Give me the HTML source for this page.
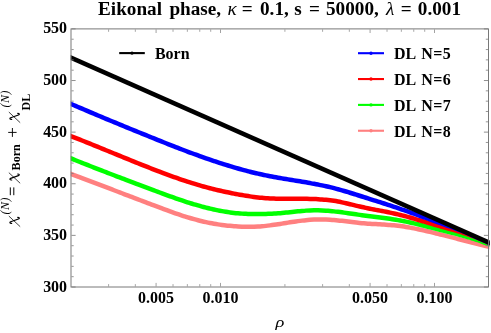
<!DOCTYPE html>
<html><head><meta charset="utf-8"><title>Eikonal phase</title>
<style>
html,body{margin:0;padding:0;background:#fff;}
body{width:491px;height:333px;position:relative;overflow:hidden;font-family:"Liberation Serif",serif;}
</style></head><body>
<svg width="491" height="333" viewBox="0 0 491 333" style="position:absolute;left:0;top:0;will-change:transform">
<defs><clipPath id="cp"><rect x="70.70" y="28.90" width="419.00" height="258.10"/></clipPath></defs>
<defs><clipPath id="cb"><path d="M70.00,56.01 L489.50,241.44 L489.50,287.00 L70.00,287.00 Z"/></clipPath></defs>
<g clip-path="url(#cp)" fill="none" stroke-width="4.50" stroke-linejoin="round">
<g clip-path="url(#cb)">
<path d="M66.00,172.08 C66.67,172.33 68.67,173.08 70.00,173.59 C71.33,174.09 72.67,174.59 74.00,175.09 C75.33,175.59 76.67,176.09 78.00,176.59 C79.33,177.10 80.67,177.60 82.00,178.10 C83.33,178.60 84.67,179.11 86.00,179.61 C87.33,180.11 88.67,180.62 90.00,181.12 C91.33,181.63 92.67,182.13 94.00,182.64 C95.33,183.14 96.67,183.65 98.00,184.15 C99.33,184.66 100.67,185.16 102.00,185.67 C103.33,186.18 104.67,186.68 106.00,187.19 C107.33,187.70 108.67,188.20 110.00,188.71 C111.33,189.22 112.67,189.72 114.00,190.23 C115.33,190.74 116.67,191.24 118.00,191.75 C119.33,192.26 120.67,192.77 122.00,193.27 C123.33,193.78 124.67,194.29 126.00,194.80 C127.33,195.30 128.67,195.81 130.00,196.32 C131.33,196.83 132.67,197.34 134.00,197.84 C135.33,198.35 136.67,198.86 138.00,199.37 C139.33,199.87 140.67,200.38 142.00,200.89 C143.33,201.40 144.67,201.90 146.00,202.41 C147.33,202.92 148.67,203.43 150.00,203.93 C151.33,204.44 152.67,204.95 154.00,205.45 C155.33,205.96 156.67,206.46 158.00,206.97 C159.33,207.47 160.67,207.97 162.00,208.47 C163.33,208.96 164.67,209.46 166.00,209.94 C167.33,210.43 168.67,210.92 170.00,211.39 C171.33,211.87 172.67,212.35 174.00,212.81 C175.33,213.28 176.67,213.74 178.00,214.19 C179.33,214.64 180.67,215.09 182.00,215.52 C183.33,215.96 184.67,216.38 186.00,216.80 C187.33,217.21 188.67,217.62 190.00,218.02 C191.33,218.41 192.67,218.79 194.00,219.17 C195.33,219.54 196.67,219.90 198.00,220.24 C199.33,220.59 200.67,220.92 202.00,221.24 C203.33,221.56 204.67,221.86 206.00,222.15 C207.33,222.44 208.67,222.72 210.00,222.98 C211.33,223.24 212.67,223.48 214.00,223.71 C215.33,223.94 216.67,224.16 218.00,224.36 C219.33,224.56 220.67,224.75 222.00,224.93 C223.33,225.10 224.67,225.27 226.00,225.42 C227.33,225.57 228.67,225.70 230.00,225.83 C231.33,225.95 232.67,226.07 234.00,226.17 C235.33,226.27 236.67,226.36 238.00,226.44 C239.33,226.51 240.67,226.58 242.00,226.63 C243.33,226.68 244.67,226.72 246.00,226.74 C247.33,226.76 248.67,226.77 250.00,226.77 C251.33,226.76 252.67,226.74 254.00,226.70 C255.33,226.66 256.67,226.60 258.00,226.53 C259.33,226.45 260.67,226.36 262.00,226.25 C263.33,226.14 264.67,226.01 266.00,225.87 C267.33,225.73 268.67,225.56 270.00,225.39 C271.33,225.22 272.67,225.04 274.00,224.84 C275.33,224.65 276.67,224.45 278.00,224.24 C279.33,224.04 280.67,223.82 282.00,223.61 C283.33,223.39 284.67,223.18 286.00,222.96 C287.33,222.75 288.67,222.53 290.00,222.32 C291.33,222.11 292.67,221.90 294.00,221.70 C295.33,221.51 296.67,221.31 298.00,221.13 C299.33,220.95 300.67,220.77 302.00,220.61 C303.33,220.46 304.67,220.31 306.00,220.18 C307.33,220.04 308.67,219.93 310.00,219.83 C311.33,219.73 312.67,219.65 314.00,219.59 C315.33,219.53 316.67,219.49 318.00,219.47 C319.33,219.45 320.67,219.45 322.00,219.46 C323.33,219.47 324.67,219.50 326.00,219.55 C327.33,219.60 328.67,219.66 330.00,219.74 C331.33,219.82 332.67,219.91 334.00,220.02 C335.33,220.13 336.67,220.25 338.00,220.39 C339.33,220.52 340.67,220.67 342.00,220.82 C343.33,220.98 344.67,221.14 346.00,221.30 C347.33,221.47 348.67,221.64 350.00,221.80 C351.33,221.97 352.67,222.14 354.00,222.30 C355.33,222.46 356.67,222.62 358.00,222.76 C359.33,222.91 360.67,223.04 362.00,223.17 C363.33,223.29 364.67,223.40 366.00,223.50 C367.33,223.60 368.67,223.69 370.00,223.77 C371.33,223.85 372.67,223.93 374.00,224.00 C375.33,224.07 376.67,224.14 378.00,224.21 C379.33,224.29 380.67,224.36 382.00,224.43 C383.33,224.51 384.67,224.59 386.00,224.68 C387.33,224.77 388.67,224.86 390.00,224.97 C391.33,225.07 392.67,225.19 394.00,225.33 C395.33,225.46 396.67,225.61 398.00,225.77 C399.33,225.94 400.67,226.12 402.00,226.31 C403.33,226.50 404.67,226.71 406.00,226.93 C407.33,227.14 408.67,227.38 410.00,227.62 C411.33,227.86 412.67,228.11 414.00,228.38 C415.33,228.64 416.67,228.91 418.00,229.19 C419.33,229.47 420.67,229.76 422.00,230.06 C423.33,230.35 424.67,230.66 426.00,230.97 C427.33,231.28 428.67,231.59 430.00,231.91 C431.33,232.23 432.67,232.56 434.00,232.88 C435.33,233.21 436.67,233.54 438.00,233.88 C439.33,234.21 440.67,234.54 442.00,234.88 C443.33,235.21 444.67,235.55 446.00,235.89 C447.33,236.23 448.67,236.56 450.00,236.90 C451.33,237.24 452.67,237.58 454.00,237.92 C455.33,238.26 456.67,238.61 458.00,238.95 C459.33,239.29 460.67,239.63 462.00,239.97 C463.33,240.31 464.67,240.66 466.00,241.00 C467.33,241.34 468.67,241.68 470.00,242.02 C471.33,242.37 472.67,242.71 474.00,243.05 C475.33,243.39 476.67,243.73 478.00,244.07 C479.33,244.41 480.67,244.75 482.00,245.08 C483.33,245.42 484.67,245.76 486.00,246.10 C487.33,246.43 488.67,246.76 490.00,247.10 C491.33,247.43 493.33,247.93 494.00,248.10" stroke="#ff8080"/>
<path d="M66.00,156.41 C66.67,156.68 68.67,157.49 70.00,158.02 C71.33,158.56 72.67,159.10 74.00,159.63 C75.33,160.17 76.67,160.70 78.00,161.23 C79.33,161.76 80.67,162.29 82.00,162.82 C83.33,163.35 84.67,163.88 86.00,164.40 C87.33,164.93 88.67,165.45 90.00,165.98 C91.33,166.50 92.67,167.02 94.00,167.54 C95.33,168.06 96.67,168.58 98.00,169.10 C99.33,169.62 100.67,170.13 102.00,170.65 C103.33,171.17 104.67,171.68 106.00,172.19 C107.33,172.71 108.67,173.22 110.00,173.73 C111.33,174.24 112.67,174.76 114.00,175.27 C115.33,175.78 116.67,176.28 118.00,176.79 C119.33,177.30 120.67,177.81 122.00,178.31 C123.33,178.82 124.67,179.33 126.00,179.83 C127.33,180.34 128.67,180.84 130.00,181.35 C131.33,181.85 132.67,182.36 134.00,182.86 C135.33,183.36 136.67,183.86 138.00,184.37 C139.33,184.87 140.67,185.37 142.00,185.87 C143.33,186.37 144.67,186.88 146.00,187.38 C147.33,187.88 148.67,188.38 150.00,188.88 C151.33,189.38 152.67,189.88 154.00,190.38 C155.33,190.88 156.67,191.38 158.00,191.87 C159.33,192.37 160.67,192.87 162.00,193.36 C163.33,193.85 164.67,194.34 166.00,194.83 C167.33,195.31 168.67,195.80 170.00,196.28 C171.33,196.75 172.67,197.23 174.00,197.70 C175.33,198.17 176.67,198.63 178.00,199.09 C179.33,199.55 180.67,200.01 182.00,200.45 C183.33,200.90 184.67,201.34 186.00,201.77 C187.33,202.21 188.67,202.63 190.00,203.05 C191.33,203.47 192.67,203.88 194.00,204.28 C195.33,204.68 196.67,205.07 198.00,205.45 C199.33,205.84 200.67,206.21 202.00,206.57 C203.33,206.93 204.67,207.29 206.00,207.63 C207.33,207.97 208.67,208.29 210.00,208.61 C211.33,208.93 212.67,209.23 214.00,209.53 C215.33,209.82 216.67,210.10 218.00,210.37 C219.33,210.63 220.67,210.89 222.00,211.13 C223.33,211.37 224.67,211.59 226.00,211.81 C227.33,212.02 228.67,212.21 230.00,212.40 C231.33,212.58 232.67,212.75 234.00,212.90 C235.33,213.05 236.67,213.18 238.00,213.30 C239.33,213.42 240.67,213.53 242.00,213.62 C243.33,213.71 244.67,213.79 246.00,213.85 C247.33,213.91 248.67,213.96 250.00,214.00 C251.33,214.04 252.67,214.06 254.00,214.08 C255.33,214.09 256.67,214.09 258.00,214.08 C259.33,214.08 260.67,214.06 262.00,214.03 C263.33,214.00 264.67,213.96 266.00,213.92 C267.33,213.87 268.67,213.81 270.00,213.75 C271.33,213.68 272.67,213.61 274.00,213.53 C275.33,213.45 276.67,213.36 278.00,213.26 C279.33,213.16 280.67,213.06 282.00,212.94 C283.33,212.83 284.67,212.71 286.00,212.58 C287.33,212.46 288.67,212.32 290.00,212.18 C291.33,212.05 292.67,211.90 294.00,211.76 C295.33,211.62 296.67,211.47 298.00,211.34 C299.33,211.20 300.67,211.07 302.00,210.95 C303.33,210.83 304.67,210.71 306.00,210.62 C307.33,210.53 308.67,210.44 310.00,210.39 C311.33,210.33 312.67,210.29 314.00,210.27 C315.33,210.25 316.67,210.26 318.00,210.28 C319.33,210.31 320.67,210.35 322.00,210.41 C323.33,210.47 324.67,210.55 326.00,210.64 C327.33,210.74 328.67,210.85 330.00,210.97 C331.33,211.09 332.67,211.22 334.00,211.37 C335.33,211.51 336.67,211.67 338.00,211.83 C339.33,211.99 340.67,212.17 342.00,212.34 C343.33,212.52 344.67,212.71 346.00,212.89 C347.33,213.08 348.67,213.27 350.00,213.47 C351.33,213.66 352.67,213.85 354.00,214.05 C355.33,214.24 356.67,214.43 358.00,214.62 C359.33,214.81 360.67,215.00 362.00,215.18 C363.33,215.36 364.67,215.53 366.00,215.70 C367.33,215.88 368.67,216.04 370.00,216.21 C371.33,216.37 372.67,216.54 374.00,216.70 C375.33,216.87 376.67,217.03 378.00,217.20 C379.33,217.36 380.67,217.53 382.00,217.71 C383.33,217.88 384.67,218.06 386.00,218.24 C387.33,218.43 388.67,218.62 390.00,218.81 C391.33,219.01 392.67,219.22 394.00,219.44 C395.33,219.65 396.67,219.88 398.00,220.12 C399.33,220.36 400.67,220.61 402.00,220.86 C403.33,221.12 404.67,221.39 406.00,221.66 C407.33,221.93 408.67,222.21 410.00,222.50 C411.33,222.79 412.67,223.09 414.00,223.39 C415.33,223.69 416.67,224.00 418.00,224.31 C419.33,224.62 420.67,224.94 422.00,225.26 C423.33,225.58 424.67,225.90 426.00,226.23 C427.33,226.56 428.67,226.89 430.00,227.22 C431.33,227.55 432.67,227.88 434.00,228.22 C435.33,228.55 436.67,228.88 438.00,229.22 C439.33,229.55 440.67,229.89 442.00,230.22 C443.33,230.55 444.67,230.88 446.00,231.22 C447.33,231.55 448.67,231.89 450.00,232.23 C451.33,232.57 452.67,232.91 454.00,233.25 C455.33,233.60 456.67,233.94 458.00,234.30 C459.33,234.66 460.67,235.01 462.00,235.38 C463.33,235.75 464.67,236.12 466.00,236.51 C467.33,236.89 468.67,237.28 470.00,237.68 C471.33,238.08 472.67,238.49 474.00,238.91 C475.33,239.34 476.67,239.77 478.00,240.22 C479.33,240.66 480.67,241.12 482.00,241.59 C483.33,242.07 484.67,242.55 486.00,243.05 C487.33,243.56 488.67,244.08 490.00,244.60 C491.33,245.12 493.33,245.91 494.00,246.17" stroke="#00ff00"/>
<path d="M66.00,134.20 C66.67,134.46 68.67,135.24 70.00,135.76 C71.33,136.28 72.67,136.80 74.00,137.32 C75.33,137.84 76.67,138.37 78.00,138.89 C79.33,139.42 80.67,139.95 82.00,140.48 C83.33,141.01 84.67,141.55 86.00,142.08 C87.33,142.62 88.67,143.15 90.00,143.69 C91.33,144.23 92.67,144.77 94.00,145.31 C95.33,145.85 96.67,146.40 98.00,146.94 C99.33,147.48 100.67,148.03 102.00,148.57 C103.33,149.12 104.67,149.66 106.00,150.21 C107.33,150.75 108.67,151.30 110.00,151.84 C111.33,152.39 112.67,152.94 114.00,153.48 C115.33,154.03 116.67,154.58 118.00,155.12 C119.33,155.67 120.67,156.21 122.00,156.76 C123.33,157.30 124.67,157.85 126.00,158.39 C127.33,158.93 128.67,159.47 130.00,160.01 C131.33,160.55 132.67,161.09 134.00,161.63 C135.33,162.17 136.67,162.71 138.00,163.24 C139.33,163.78 140.67,164.31 142.00,164.84 C143.33,165.37 144.67,165.90 146.00,166.43 C147.33,166.95 148.67,167.48 150.00,168.00 C151.33,168.52 152.67,169.04 154.00,169.56 C155.33,170.07 156.67,170.59 158.00,171.10 C159.33,171.61 160.67,172.11 162.00,172.61 C163.33,173.12 164.67,173.62 166.00,174.11 C167.33,174.60 168.67,175.09 170.00,175.58 C171.33,176.06 172.67,176.54 174.00,177.02 C175.33,177.49 176.67,177.96 178.00,178.43 C179.33,178.89 180.67,179.35 182.00,179.80 C183.33,180.25 184.67,180.70 186.00,181.14 C187.33,181.58 188.67,182.01 190.00,182.43 C191.33,182.86 192.67,183.28 194.00,183.69 C195.33,184.10 196.67,184.50 198.00,184.90 C199.33,185.29 200.67,185.68 202.00,186.06 C203.33,186.44 204.67,186.81 206.00,187.17 C207.33,187.53 208.67,187.88 210.00,188.23 C211.33,188.57 212.67,188.91 214.00,189.23 C215.33,189.56 216.67,189.88 218.00,190.19 C219.33,190.51 220.67,190.81 222.00,191.11 C223.33,191.41 224.67,191.70 226.00,191.98 C227.33,192.27 228.67,192.55 230.00,192.82 C231.33,193.09 232.67,193.35 234.00,193.61 C235.33,193.87 236.67,194.12 238.00,194.37 C239.33,194.62 240.67,194.86 242.00,195.09 C243.33,195.32 244.67,195.55 246.00,195.76 C247.33,195.97 248.67,196.18 250.00,196.37 C251.33,196.57 252.67,196.75 254.00,196.93 C255.33,197.10 256.67,197.26 258.00,197.41 C259.33,197.56 260.67,197.69 262.00,197.81 C263.33,197.94 264.67,198.04 266.00,198.14 C267.33,198.23 268.67,198.31 270.00,198.39 C271.33,198.46 272.67,198.52 274.00,198.57 C275.33,198.62 276.67,198.66 278.00,198.69 C279.33,198.73 280.67,198.75 282.00,198.77 C283.33,198.79 284.67,198.80 286.00,198.81 C287.33,198.81 288.67,198.81 290.00,198.81 C291.33,198.81 292.67,198.81 294.00,198.80 C295.33,198.80 296.67,198.79 298.00,198.79 C299.33,198.79 300.67,198.78 302.00,198.79 C303.33,198.79 304.67,198.80 306.00,198.81 C307.33,198.83 308.67,198.84 310.00,198.88 C311.33,198.91 312.67,198.94 314.00,198.99 C315.33,199.05 316.67,199.11 318.00,199.18 C319.33,199.26 320.67,199.34 322.00,199.45 C323.33,199.55 324.67,199.67 326.00,199.81 C327.33,199.94 328.67,200.09 330.00,200.27 C331.33,200.44 332.67,200.63 334.00,200.84 C335.33,201.05 336.67,201.29 338.00,201.54 C339.33,201.79 340.67,202.07 342.00,202.35 C343.33,202.64 344.67,202.94 346.00,203.25 C347.33,203.56 348.67,203.88 350.00,204.20 C351.33,204.52 352.67,204.85 354.00,205.17 C355.33,205.50 356.67,205.82 358.00,206.14 C359.33,206.45 360.67,206.76 362.00,207.06 C363.33,207.36 364.67,207.64 366.00,207.92 C367.33,208.20 368.67,208.47 370.00,208.73 C371.33,208.99 372.67,209.25 374.00,209.50 C375.33,209.76 376.67,210.01 378.00,210.26 C379.33,210.51 380.67,210.76 382.00,211.01 C383.33,211.27 384.67,211.52 386.00,211.78 C387.33,212.04 388.67,212.31 390.00,212.59 C391.33,212.86 392.67,213.15 394.00,213.44 C395.33,213.74 396.67,214.05 398.00,214.37 C399.33,214.69 400.67,215.02 402.00,215.36 C403.33,215.70 404.67,216.05 406.00,216.41 C407.33,216.76 408.67,217.13 410.00,217.50 C411.33,217.87 412.67,218.25 414.00,218.64 C415.33,219.02 416.67,219.41 418.00,219.80 C419.33,220.19 420.67,220.58 422.00,220.98 C423.33,221.37 424.67,221.77 426.00,222.17 C427.33,222.56 428.67,222.96 430.00,223.36 C431.33,223.75 432.67,224.14 434.00,224.53 C435.33,224.92 436.67,225.31 438.00,225.69 C439.33,226.07 440.67,226.45 442.00,226.82 C443.33,227.19 444.67,227.56 446.00,227.93 C447.33,228.29 448.67,228.66 450.00,229.03 C451.33,229.39 452.67,229.76 454.00,230.13 C455.33,230.51 456.67,230.89 458.00,231.27 C459.33,231.66 460.67,232.05 462.00,232.46 C463.33,232.87 464.67,233.28 466.00,233.71 C467.33,234.14 468.67,234.59 470.00,235.05 C471.33,235.51 472.67,235.99 474.00,236.49 C475.33,236.99 476.67,237.51 478.00,238.05 C479.33,238.59 480.67,239.17 482.00,239.75 C483.33,240.33 484.67,240.93 486.00,241.52 C487.33,242.11 488.67,242.69 490.00,243.28 C491.33,243.87 493.33,244.76 494.00,245.05" stroke="#ff0000"/>
<path d="M66.00,101.77 C66.67,102.06 68.67,102.92 70.00,103.50 C71.33,104.08 72.67,104.66 74.00,105.23 C75.33,105.81 76.67,106.38 78.00,106.95 C79.33,107.53 80.67,108.10 82.00,108.67 C83.33,109.24 84.67,109.81 86.00,110.38 C87.33,110.94 88.67,111.51 90.00,112.08 C91.33,112.64 92.67,113.20 94.00,113.77 C95.33,114.33 96.67,114.89 98.00,115.45 C99.33,116.01 100.67,116.57 102.00,117.13 C103.33,117.69 104.67,118.24 106.00,118.80 C107.33,119.36 108.67,119.91 110.00,120.47 C111.33,121.02 112.67,121.57 114.00,122.13 C115.33,122.68 116.67,123.23 118.00,123.78 C119.33,124.33 120.67,124.88 122.00,125.43 C123.33,125.98 124.67,126.52 126.00,127.07 C127.33,127.62 128.67,128.16 130.00,128.71 C131.33,129.25 132.67,129.80 134.00,130.34 C135.33,130.88 136.67,131.43 138.00,131.97 C139.33,132.51 140.67,133.05 142.00,133.59 C143.33,134.13 144.67,134.67 146.00,135.21 C147.33,135.75 148.67,136.29 150.00,136.83 C151.33,137.37 152.67,137.91 154.00,138.44 C155.33,138.98 156.67,139.52 158.00,140.05 C159.33,140.59 160.67,141.12 162.00,141.65 C163.33,142.19 164.67,142.72 166.00,143.25 C167.33,143.78 168.67,144.30 170.00,144.83 C171.33,145.35 172.67,145.88 174.00,146.40 C175.33,146.92 176.67,147.44 178.00,147.95 C179.33,148.47 180.67,148.98 182.00,149.49 C183.33,150.00 184.67,150.51 186.00,151.02 C187.33,151.52 188.67,152.02 190.00,152.52 C191.33,153.01 192.67,153.51 194.00,154.00 C195.33,154.49 196.67,154.97 198.00,155.46 C199.33,155.94 200.67,156.42 202.00,156.89 C203.33,157.36 204.67,157.83 206.00,158.30 C207.33,158.76 208.67,159.22 210.00,159.67 C211.33,160.13 212.67,160.58 214.00,161.02 C215.33,161.47 216.67,161.91 218.00,162.34 C219.33,162.78 220.67,163.21 222.00,163.63 C223.33,164.06 224.67,164.48 226.00,164.89 C227.33,165.30 228.67,165.71 230.00,166.12 C231.33,166.52 232.67,166.92 234.00,167.31 C235.33,167.70 236.67,168.09 238.00,168.47 C239.33,168.85 240.67,169.23 242.00,169.60 C243.33,169.96 244.67,170.33 246.00,170.68 C247.33,171.04 248.67,171.38 250.00,171.72 C251.33,172.07 252.67,172.40 254.00,172.72 C255.33,173.05 256.67,173.37 258.00,173.67 C259.33,173.98 260.67,174.28 262.00,174.57 C263.33,174.86 264.67,175.14 266.00,175.42 C267.33,175.69 268.67,175.95 270.00,176.21 C271.33,176.47 272.67,176.72 274.00,176.97 C275.33,177.21 276.67,177.45 278.00,177.69 C279.33,177.92 280.67,178.15 282.00,178.38 C283.33,178.61 284.67,178.83 286.00,179.05 C287.33,179.27 288.67,179.49 290.00,179.71 C291.33,179.92 292.67,180.14 294.00,180.35 C295.33,180.57 296.67,180.78 298.00,181.00 C299.33,181.22 300.67,181.44 302.00,181.66 C303.33,181.88 304.67,182.11 306.00,182.34 C307.33,182.57 308.67,182.80 310.00,183.04 C311.33,183.28 312.67,183.52 314.00,183.78 C315.33,184.03 316.67,184.29 318.00,184.55 C319.33,184.82 320.67,185.09 322.00,185.38 C323.33,185.66 324.67,185.95 326.00,186.25 C327.33,186.55 328.67,186.86 330.00,187.18 C331.33,187.50 332.67,187.83 334.00,188.18 C335.33,188.52 336.67,188.87 338.00,189.23 C339.33,189.60 340.67,189.97 342.00,190.35 C343.33,190.73 344.67,191.13 346.00,191.52 C347.33,191.92 348.67,192.33 350.00,192.74 C351.33,193.14 352.67,193.56 354.00,193.98 C355.33,194.39 356.67,194.82 358.00,195.24 C359.33,195.66 360.67,196.08 362.00,196.51 C363.33,196.93 364.67,197.35 366.00,197.77 C367.33,198.19 368.67,198.62 370.00,199.04 C371.33,199.46 372.67,199.88 374.00,200.31 C375.33,200.73 376.67,201.16 378.00,201.58 C379.33,202.01 380.67,202.44 382.00,202.87 C383.33,203.30 384.67,203.73 386.00,204.16 C387.33,204.60 388.67,205.04 390.00,205.48 C391.33,205.92 392.67,206.36 394.00,206.80 C395.33,207.25 396.67,207.70 398.00,208.15 C399.33,208.61 400.67,209.06 402.00,209.52 C403.33,209.98 404.67,210.45 406.00,210.91 C407.33,211.37 408.67,211.84 410.00,212.31 C411.33,212.78 412.67,213.25 414.00,213.72 C415.33,214.19 416.67,214.67 418.00,215.14 C419.33,215.62 420.67,216.09 422.00,216.57 C423.33,217.04 424.67,217.52 426.00,218.00 C427.33,218.47 428.67,218.95 430.00,219.42 C431.33,219.90 432.67,220.37 434.00,220.85 C435.33,221.32 436.67,221.80 438.00,222.27 C439.33,222.74 440.67,223.21 442.00,223.68 C443.33,224.15 444.67,224.61 446.00,225.08 C447.33,225.55 448.67,226.02 450.00,226.49 C451.33,226.97 452.67,227.44 454.00,227.92 C455.33,228.40 456.67,228.88 458.00,229.37 C459.33,229.86 460.67,230.34 462.00,230.86 C463.33,231.37 464.67,231.89 466.00,232.45 C467.33,233.01 468.67,233.63 470.00,234.22 C471.33,234.81 472.67,235.40 474.00,235.99 C475.33,236.58 476.67,237.17 478.00,237.76 C479.33,238.35 480.67,238.94 482.00,239.53 C483.33,240.12 484.67,240.71 486.00,241.29 C487.33,241.88 488.67,242.47 490.00,243.06 C491.33,243.65 493.33,244.54 494.00,244.83" stroke="#0000ff"/>
</g>
<path d="M66.00,55.54 L494.00,244.73" stroke="#000"/>
</g>
<path d="M71.50,287.00 h4.10 M488.00,287.00 h-4.10" stroke="#7c7c7c" stroke-width="0.85"/>
<path d="M71.50,276.68 h2.20 M488.00,276.68 h-2.20" stroke="#7c7c7c" stroke-width="0.80"/>
<path d="M71.50,266.35 h2.20 M488.00,266.35 h-2.20" stroke="#7c7c7c" stroke-width="0.80"/>
<path d="M71.50,256.03 h2.20 M488.00,256.03 h-2.20" stroke="#7c7c7c" stroke-width="0.80"/>
<path d="M71.50,245.70 h2.20 M488.00,245.70 h-2.20" stroke="#7c7c7c" stroke-width="0.80"/>
<path d="M71.50,235.38 h4.10 M488.00,235.38 h-4.10" stroke="#7c7c7c" stroke-width="0.85"/>
<path d="M71.50,225.06 h2.20 M488.00,225.06 h-2.20" stroke="#7c7c7c" stroke-width="0.80"/>
<path d="M71.50,214.73 h2.20 M488.00,214.73 h-2.20" stroke="#7c7c7c" stroke-width="0.80"/>
<path d="M71.50,204.41 h2.20 M488.00,204.41 h-2.20" stroke="#7c7c7c" stroke-width="0.80"/>
<path d="M71.50,194.08 h2.20 M488.00,194.08 h-2.20" stroke="#7c7c7c" stroke-width="0.80"/>
<path d="M71.50,183.76 h4.10 M488.00,183.76 h-4.10" stroke="#7c7c7c" stroke-width="0.85"/>
<path d="M71.50,173.44 h2.20 M488.00,173.44 h-2.20" stroke="#7c7c7c" stroke-width="0.80"/>
<path d="M71.50,163.11 h2.20 M488.00,163.11 h-2.20" stroke="#7c7c7c" stroke-width="0.80"/>
<path d="M71.50,152.79 h2.20 M488.00,152.79 h-2.20" stroke="#7c7c7c" stroke-width="0.80"/>
<path d="M71.50,142.46 h2.20 M488.00,142.46 h-2.20" stroke="#7c7c7c" stroke-width="0.80"/>
<path d="M71.50,132.14 h4.10 M488.00,132.14 h-4.10" stroke="#7c7c7c" stroke-width="0.85"/>
<path d="M71.50,121.82 h2.20 M488.00,121.82 h-2.20" stroke="#7c7c7c" stroke-width="0.80"/>
<path d="M71.50,111.49 h2.20 M488.00,111.49 h-2.20" stroke="#7c7c7c" stroke-width="0.80"/>
<path d="M71.50,101.17 h2.20 M488.00,101.17 h-2.20" stroke="#7c7c7c" stroke-width="0.80"/>
<path d="M71.50,90.84 h2.20 M488.00,90.84 h-2.20" stroke="#7c7c7c" stroke-width="0.80"/>
<path d="M71.50,80.52 h4.10 M488.00,80.52 h-4.10" stroke="#7c7c7c" stroke-width="0.85"/>
<path d="M71.50,70.20 h2.20 M488.00,70.20 h-2.20" stroke="#7c7c7c" stroke-width="0.80"/>
<path d="M71.50,59.87 h2.20 M488.00,59.87 h-2.20" stroke="#7c7c7c" stroke-width="0.80"/>
<path d="M71.50,49.55 h2.20 M488.00,49.55 h-2.20" stroke="#7c7c7c" stroke-width="0.80"/>
<path d="M71.50,39.22 h2.20 M488.00,39.22 h-2.20" stroke="#7c7c7c" stroke-width="0.80"/>
<path d="M71.50,28.90 h4.10 M488.00,28.90 h-4.10" stroke="#7c7c7c" stroke-width="0.85"/>
<path d="M156.08,286.50 v-3.60 M156.08,29.40 v3.60" stroke="#8a8a8a" stroke-width="0.80"/>
<path d="M220.50,286.50 v-3.60 M220.50,29.40 v3.60" stroke="#8a8a8a" stroke-width="0.80"/>
<path d="M370.08,286.50 v-3.60 M370.08,29.40 v3.60" stroke="#8a8a8a" stroke-width="0.80"/>
<path d="M434.50,286.50 v-3.60 M434.50,29.40 v3.60" stroke="#8a8a8a" stroke-width="0.80"/>
<path d="M108.60,286.50 v-2.40 M108.60,29.40 v2.40" stroke="#8a8a8a" stroke-width="0.75"/>
<path d="M135.34,286.50 v-2.40 M135.34,29.40 v2.40" stroke="#8a8a8a" stroke-width="0.75"/>
<path d="M173.02,286.50 v-2.40 M173.02,29.40 v2.40" stroke="#8a8a8a" stroke-width="0.75"/>
<path d="M187.35,286.50 v-2.40 M187.35,29.40 v2.40" stroke="#8a8a8a" stroke-width="0.75"/>
<path d="M199.76,286.50 v-2.40 M199.76,29.40 v2.40" stroke="#8a8a8a" stroke-width="0.75"/>
<path d="M210.71,286.50 v-2.40 M210.71,29.40 v2.40" stroke="#8a8a8a" stroke-width="0.75"/>
<path d="M284.92,286.50 v-2.40 M284.92,29.40 v2.40" stroke="#8a8a8a" stroke-width="0.75"/>
<path d="M322.60,286.50 v-2.40 M322.60,29.40 v2.40" stroke="#8a8a8a" stroke-width="0.75"/>
<path d="M349.34,286.50 v-2.40 M349.34,29.40 v2.40" stroke="#8a8a8a" stroke-width="0.75"/>
<path d="M387.02,286.50 v-2.40 M387.02,29.40 v2.40" stroke="#8a8a8a" stroke-width="0.75"/>
<path d="M401.35,286.50 v-2.40 M401.35,29.40 v2.40" stroke="#8a8a8a" stroke-width="0.75"/>
<path d="M413.76,286.50 v-2.40 M413.76,29.40 v2.40" stroke="#8a8a8a" stroke-width="0.75"/>
<path d="M424.71,286.50 v-2.40 M424.71,29.40 v2.40" stroke="#8a8a8a" stroke-width="0.75"/>
<rect x="71.00" y="28.90" width="417.50" height="258.10" fill="none" stroke="#787878" stroke-width="1"/>
<path d="M119.20,53.10 H144.80" stroke="#000" stroke-width="2.1"/><circle cx="132.00" cy="53.10" r="1.7" fill="#000"/>
<path d="M358.00,53.20 H384.00" stroke="#0000ff" stroke-width="2.1"/><circle cx="371.00" cy="53.20" r="1.7" fill="#0000ff"/>
<path d="M358.00,79.05 H384.00" stroke="#ff0000" stroke-width="2.1"/><circle cx="371.00" cy="79.05" r="1.7" fill="#ff0000"/>
<path d="M358.00,104.90 H384.00" stroke="#00ff00" stroke-width="2.1"/><circle cx="371.00" cy="104.90" r="1.7" fill="#00ff00"/>
<path d="M358.00,130.75 H384.00" stroke="#ff8080" stroke-width="2.1"/><circle cx="371.00" cy="130.75" r="1.7" fill="#ff8080"/>
<g font-family="'Liberation Serif', serif" font-weight="bold" font-size="16" fill="#000">
<text transform="translate(67.10,291.50) scale(1,1.060)" text-anchor="end">300</text>
<text transform="translate(67.10,239.88) scale(1,1.060)" text-anchor="end">350</text>
<text transform="translate(67.10,188.26) scale(1,1.060)" text-anchor="end">400</text>
<text transform="translate(67.10,136.64) scale(1,1.060)" text-anchor="end">450</text>
<text transform="translate(67.10,85.02) scale(1,1.060)" text-anchor="end">500</text>
<text transform="translate(67.10,33.40) scale(1,1.060)" text-anchor="end">550</text>
<text transform="translate(156.08,303.10) scale(1,1.060)" text-anchor="middle">0.005</text>
<text transform="translate(220.50,303.10) scale(1,1.060)" text-anchor="middle">0.010</text>
<text transform="translate(370.08,303.10) scale(1,1.060)" text-anchor="middle">0.050</text>
<text transform="translate(434.50,303.10) scale(1,1.060)" text-anchor="middle">0.100</text>
<text transform="translate(154.90,59.40) scale(1,1.060)" text-anchor="start">Born</text>
<text transform="translate(393.90,59.40) scale(1,1.060)" text-anchor="start">DL</text><text transform="translate(421.20,59.40) scale(1,1.060)" text-anchor="start" letter-spacing="0.4">N=5</text>
<text transform="translate(393.90,85.25) scale(1,1.060)" text-anchor="start">DL</text><text transform="translate(421.20,85.25) scale(1,1.060)" text-anchor="start" letter-spacing="0.4">N=6</text>
<text transform="translate(393.90,111.10) scale(1,1.060)" text-anchor="start">DL</text><text transform="translate(421.20,111.10) scale(1,1.060)" text-anchor="start" letter-spacing="0.4">N=7</text>
<text transform="translate(393.90,136.95) scale(1,1.060)" text-anchor="start">DL</text><text transform="translate(421.20,136.95) scale(1,1.060)" text-anchor="start" letter-spacing="0.4">N=8</text>
<g font-size="19.2">
<text x="98.00" y="14.70">Eikonal</text>
<text x="169.40" y="14.70">phase,</text>
<text x="227.50" y="14.70" font-style="italic" font-weight="normal">κ</text>
<text x="241.70" y="14.70">=</text>
<text x="260.00" y="14.70">0.1,</text>
<text x="294.20" y="14.70">s</text>
<text x="308.90" y="14.70">=</text>
<text x="326.00" y="14.70">50000,</text>
<text x="386.00" y="14.70" font-style="italic" font-weight="normal">λ</text>
<text x="400.80" y="14.70">=</text>
<text x="417.80" y="14.70">0.001</text>
</g>
<text transform="translate(279.9,327.4) scale(1.15,0.93)" text-anchor="middle" font-style="italic" font-weight="normal">ρ</text>
<g transform="translate(9.00,226.60) rotate(-90)" fill="none" stroke="#000" stroke-linecap="round"><path d="M10.3,0.1 L0.2,10.9" stroke-width="0.75"/><path d="M3.2,2.7 C3.0,1.0 4.2,0.2 4.8,1.7 L7.6,9.4 C8.1,10.9 9.1,10.5 9.2,8.7" stroke-width="1.15"/></g>
<g transform="translate(9.00,183.20) rotate(-90)" fill="none" stroke="#000" stroke-linecap="round"><path d="M10.3,0.1 L0.2,10.9" stroke-width="0.75"/><path d="M3.2,2.7 C3.0,1.0 4.2,0.2 4.8,1.7 L7.6,9.4 C8.1,10.9 9.1,10.5 9.2,8.7" stroke-width="1.15"/></g>
<g transform="translate(9.00,122.60) rotate(-90)" fill="none" stroke="#000" stroke-linecap="round"><path d="M10.3,0.1 L0.2,10.9" stroke-width="0.75"/><path d="M3.2,2.7 C3.0,1.0 4.2,0.2 4.8,1.7 L7.6,9.4 C8.1,10.9 9.1,10.5 9.2,8.7" stroke-width="1.15"/></g>
<text transform="translate(9.30,214.60) rotate(-90)" font-style="italic" font-weight="normal" font-size="12" letter-spacing="0.5">(N)</text>
<text transform="translate(9.30,107.60) rotate(-90)" font-style="italic" font-weight="normal" font-size="12" letter-spacing="0.5">(N)</text>
<text transform="translate(19.50,170.40) rotate(-90)" font-size="12.1">Born</text>
<text transform="translate(30.30,110.50) rotate(-90)" font-size="12">DL</text>
<path d="M10.3,187.4 V195.2 M13.8,187.4 V195.2" stroke="#000" stroke-width="1.0" fill="none"/>
<path d="M8.2,132.4 H16.6 M12.4,128.0 V136.9" stroke="#000" stroke-width="0.95" fill="none"/>
</g>
</svg>
</body></html>
